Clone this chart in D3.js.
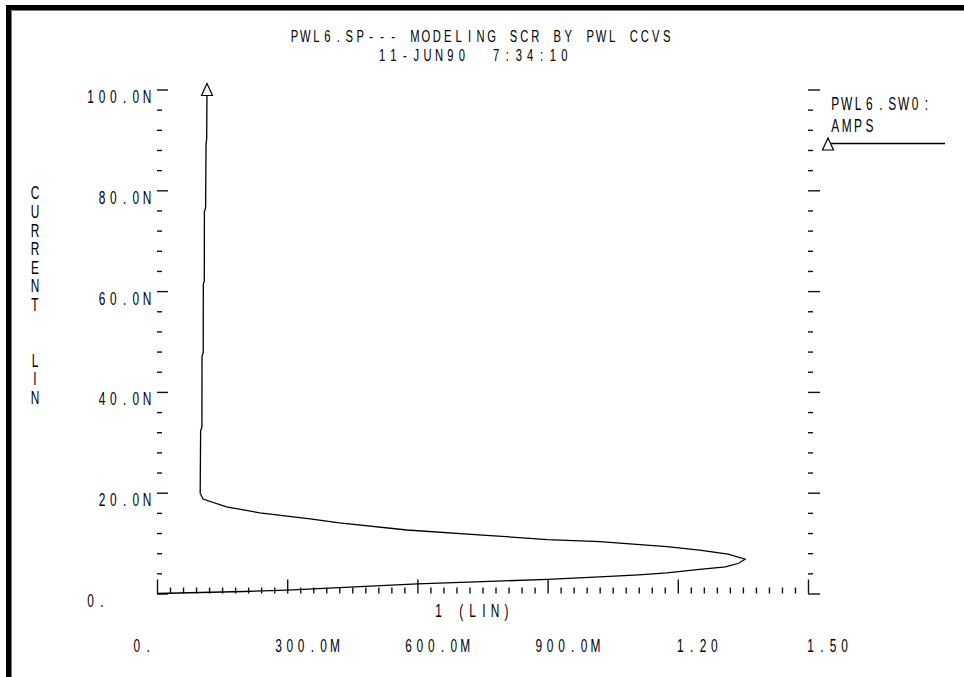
<!DOCTYPE html>
<html><head><meta charset="utf-8">
<script src="https://cdn.jsdelivr.net/npm/d3@7"></script>
<style>html,body{margin:0;padding:0;background:#fff;overflow:hidden}</style>
</head><body>
<svg id="c" width="964" height="677"></svg>
<script>
// ---------- data ----------
const titleLines = ["PWL6.SP--- MODELING SCR BY PWL CCVS", "11-JUN90  7:34:10"];
const yTickValues = [0, 20, 40, 60, 80, 100];            // nA
const yTickLabels = ["0.", " 20.0N", " 40.0N", " 60.0N", " 80.0N", "100.0N"];
const xTickValues = [0, 0.3, 0.6, 0.9, 1.2, 1.5];
const xTickLabels = ["0.", "300.0M", "600.0M", "900.0M", "1.20", "1.50"];
const xAxisTitle = "1 (LIN)";
const yAxisTitle = "CURRENT  LIN";
const legendLines = ["PWL6.SW0:", "AMPS"];
const seriesX = [0, 0.10, 0.20, 0.30, 0.42, 0.60, 0.75, 0.90, 1.02, 1.11, 1.175, 1.25, 1.31, 1.34, 1.355,
  1.316, 1.25, 1.175, 1.02, 0.90, 0.75, 0.576, 0.42, 0.353, 0.237, 0.16, 0.106, 0.0995,
  0.1005, 0.1035, 0.1037, 0.1065, 0.1067, 0.109, 0.1092, 0.112, 0.113, 0.1145, 0.1152];
const seriesY = [0, 0.2, 0.4, 0.65, 1.15, 1.9, 2.35, 2.8, 3.3, 3.7, 4.1, 4.8, 5.3, 6.0, 6.8,
  7.8, 8.6, 9.3, 10.3, 10.7, 11.6, 12.6, 14.0, 14.8, 16.0, 17.2, 18.75, 19.9,
  32.3, 33.0, 47.1, 47.8, 61.4, 62.0, 75.8, 76.5, 89.3, 90.2, 100];

// ---------- setup ----------
const svg = d3.select("#c");
const FONT = "'Liberation Sans', Arial, sans-serif";
const SX = 0.68;
const FS = 17.5;
const x = d3.scaleLinear().domain([0, 1.5]).range([157, 808]);
const y = d3.scaleLinear().domain([0, 100]).range([593.5, 89.5]);

function mono(str, x0, baseline, adv, size) {
  const xs = Array.from(str, (c, i) => ((x0 + i * adv + adv / 2) / SX).toFixed(2)).join(" ");
  return svg.append("text")
    .attr("transform", `scale(${SX},1)`)
    .attr("xml:space", "preserve")
    .style("white-space", "pre")
    .attr("x", xs).attr("y", baseline)
    .attr("text-anchor", "middle")
    .attr("font-family", FONT).attr("font-size", size || FS)
    .attr("fill", "#000")
    .text(str);
}

// frame
svg.append("path").attr("d", "M8.5,677 V7.5 H964").attr("fill", "none")
  .attr("stroke", "#000").attr("stroke-width", 5);
svg.append("path").attr("d", "M11.5,677 V10.5 H964").attr("fill", "none")
  .attr("stroke", "#777").attr("stroke-width", 1);

// title
mono(titleLines[0], 289, 42, 10.95, 16.5);
mono(titleLines[1], 376.3, 61, 11.4, 16.5);

// axes ticks
const yMinor = d3.range(4, 100, 4).filter(v => v % 20 !== 0);
const xMinor = d3.range(1, 50).map(i => i * 0.03).filter((v, i) => (i + 1) % 10 !== 0);

function styleAxis(g) {
  g.select(".domain").remove();
  g.selectAll(".tick line").attr("stroke", "#111").attr("stroke-width", 1.4);
  g.selectAll(".tick text").remove();
}
[[157, 11], [808, 12]].forEach(([px, len]) => {
  svg.append("g").attr("transform", `translate(${px},0)`)
    .call(d3.axisRight(y).tickValues(yTickValues).tickSize(len).tickFormat(""))
    .call(styleAxis);
  svg.append("g").attr("transform", `translate(${px},0)`)
    .call(d3.axisRight(y).tickValues(yMinor).tickSize(5).tickFormat(""))
    .call(styleAxis);
});
svg.append("g").attr("transform", `translate(0,${y(0)})`)
  .call(d3.axisTop(x).tickValues(xTickValues).tickSize(14).tickFormat(""))
  .call(styleAxis);
svg.append("g").attr("transform", `translate(0,${y(0)})`)
  .call(d3.axisTop(x).tickValues(xMinor).tickSize(6).tickFormat(""))
  .call(styleAxis);

// y tick labels
yTickValues.forEach((v, i) => mono(yTickLabels[i], 85, y(v) + 13.5, 11.3));
// x tick labels
xTickValues.forEach((v, i) => {
  const s = xTickLabels[i];
  const w = s.length * 11.3;
  const c = v === 0 ? x(v) - 14.5 : x(v) + 19.5;
  mono(s, c - w / 2, 652.5, 11.3);
});
// axis titles
mono(xAxisTitle, 433, 617.5, 11.3);
svg.append("text")
  .attr("transform", `scale(${SX},1)`)
  .attr("xml:space", "preserve").style("white-space", "pre")
  .attr("x", Array.from(yAxisTitle, () => (35 / SX).toFixed(2)).join(" "))
  .attr("y", Array.from(yAxisTitle, (c, i) => (199.5 + i * 18.6).toFixed(1)).join(" "))
  .attr("text-anchor", "middle")
  .attr("font-family", FONT).attr("font-size", FS).attr("fill", "#000")
  .text(yAxisTitle);

// curve
const pts = seriesX.map((v, i) => [v, seriesY[i]]);
svg.append("path")
  .attr("d", d3.line().x(d => x(d[0])).y(d => y(d[1]))(pts))
  .attr("fill", "none").attr("stroke", "#000").attr("stroke-width", 1.3);

const tri = "M0,-6 L5.5,6 L-5.5,6 Z";
const last = pts[pts.length - 1];
svg.append("path").attr("d", tri)
  .attr("transform", `translate(${x(last[0])},${y(last[1])})`)
  .attr("fill", "#fff").attr("stroke", "#000").attr("stroke-width", 1.2);

// legend
mono(legendLines[0], 829.5, 110.5, 11.4);
mono(legendLines[1], 829.5, 132.5, 11.4);
svg.append("line").attr("x1", 828).attr("x2", 945).attr("y1", 143.5).attr("y2", 143.5)
  .attr("stroke", "#000").attr("stroke-width", 1.3);
svg.append("path").attr("d", tri).attr("transform", "translate(828,144)")
  .attr("fill", "#fff").attr("stroke", "#000").attr("stroke-width", 1.2);
</script>
</body></html>
